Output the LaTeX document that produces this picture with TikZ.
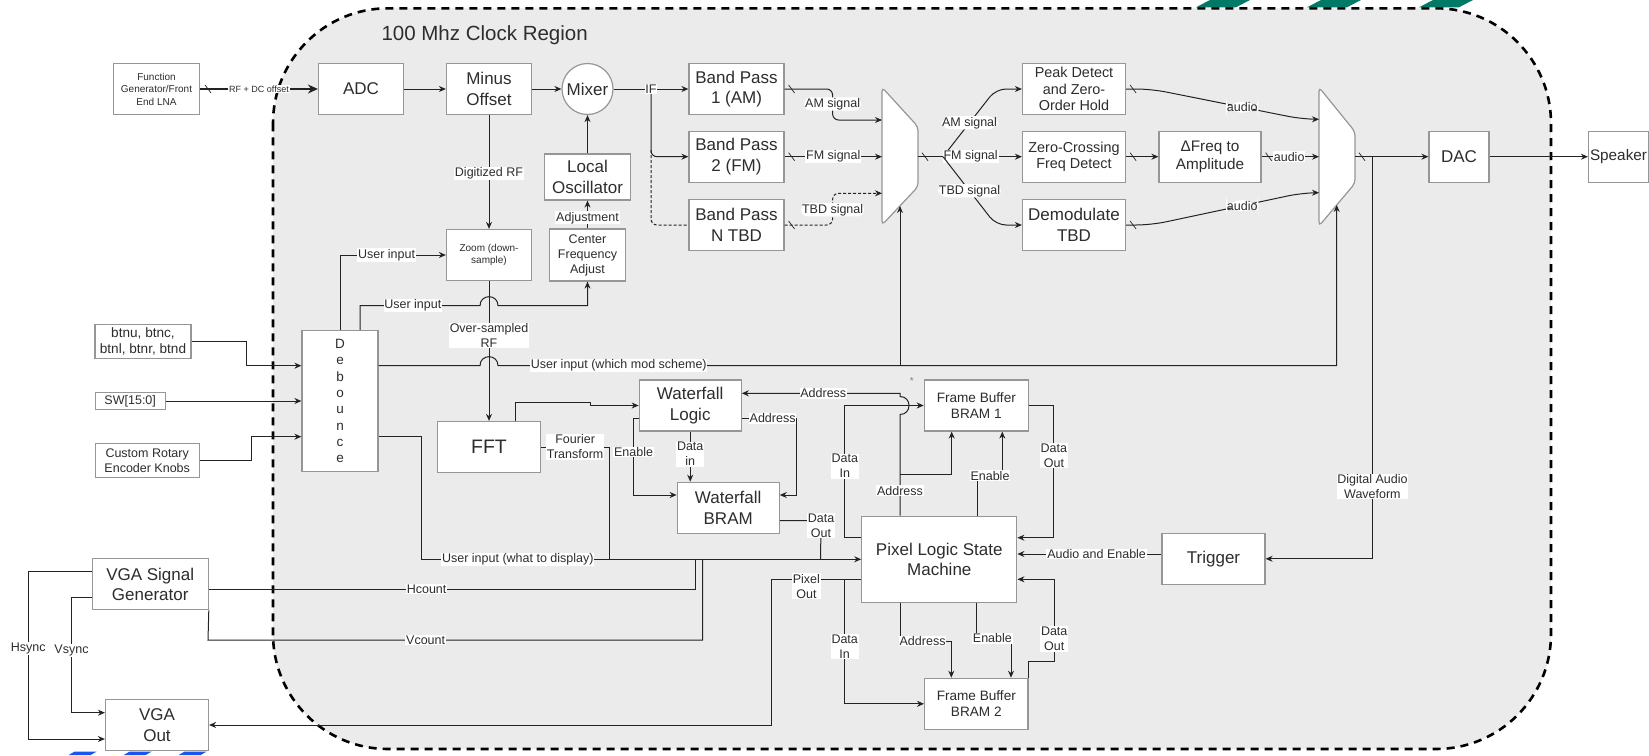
\documentclass[tikz,border=0pt]{standalone}
\usepackage{fontspec}
\setmainfont{Liberation Sans}
\usetikzlibrary{arrows.meta}

\definecolor{regionfill}{RGB}{235,235,235}
\definecolor{boxline}{RGB}{150,150,150}
\definecolor{wirecol}{RGB}{35,35,35}
\definecolor{txtcol}{RGB}{45,45,45}
\definecolor{tealmark}{RGB}{0,122,102}
\definecolor{bluemark}{RGB}{25,85,240}

\newcommand\fsbig{\fontsize{17}{20.5}\selectfont}
\newcommand\fsfft{\fontsize{19.5}{22}\selectfont}
\newcommand\fsspk{\fontsize{15.3}{17.7}\selectfont}
\newcommand\fsmid{\fontsize{14.4}{16.7}\selectfont}
\newcommand\fsfb{\fontsize{13.6}{16.5}\selectfont}
\newcommand\fsdeb{\fontsize{13.5}{16.3}\selectfont}
\newcommand\fslbl{\fontsize{12.5}{15}\selectfont}
\newcommand\fstiny{\fontsize{10}{12.5}\selectfont}
\newcommand\fsrf{\fontsize{9}{11}\selectfont}
\newcommand\fstitle{\fontsize{20.5}{24}\selectfont}

\tikzset{
  blk/.style={draw=boxline, line width=1.2pt, fill=white, text=txtcol, align=center, inner sep=0.5pt, font=\fsbig},
  lbl/.style={fill=white, text=txtcol, inner sep=0.8pt, align=center, font=\fslbl},
  conn/.style={draw=wirecol, line width=1pt},
  arr/.style={conn, -{Stealth[length=7pt,width=6pt]}},
  mux/.style={draw=boxline, line width=1.2pt, fill=white, rounded corners=4pt},
  bustick/.pic={\draw[wirecol, line width=0.7pt] (-3,-4) -- (3,4);}
}

\begin{document}
\begin{tikzpicture}[x=1pt,y=-1pt]
        \useasboundingbox (0,0) rectangle (1649,755);
        \fill[white] (0,0) rectangle (1649,755);
        \draw[line width=2.6pt, dash pattern=on 8pt off 6pt, fill=regionfill, rounded corners=115pt] (273,8.3) rectangle (1551,749);
        \foreach \mx in {1196,1307,1419}
          \fill[tealmark] (\mx,7.3) -- (\mx+40,7.3) -- (\mx+54,0) -- (\mx+14,0) -- cycle;
        \foreach \mx in {71.7,126.7,181.7}
          \fill[bluemark] (\mx-3,755) -- (\mx+19,755) -- (\mx+25,751.5) -- (\mx+3,751.5) -- cycle;
        \node[anchor=west, font=\fstitle, text=txtcol] (title) at (378,35) {100 Mhz Clock Region};

        \node[blk, minimum width=86pt, minimum height=51pt, font=\fstiny] (fgen) at (156.5,89) {Function\\Generator/Front\\End LNA};
        \node[blk, minimum width=85pt, minimum height=51pt] (adc) at (361,89) {ADC};
        \node[blk, minimum width=85pt, minimum height=51pt] (minus) at (489,89) {Minus\\Offset};
        \node[blk, circle, minimum size=51pt] (mixer) at (587.5,89) {Mixer};
        \node[blk, minimum width=86pt, minimum height=46pt] (lo) at (587.5,177) {Local\\Oscillator};
        \node[blk, minimum width=85pt, minimum height=51pt, font=\fstiny] (zoom) at (489,255) {Zoom (down-\\sample)};
        \node[blk, minimum width=76pt, minimum height=52pt, font=\fslbl] (cfa) at (587.5,255) {Center\\Frequency\\Adjust};
        \node[blk, minimum width=95pt, minimum height=51pt] (bp1) at (736.5,89) {Band Pass\\1 (AM)};
        \node[blk, minimum width=95pt, minimum height=51pt] (bp2) at (736.5,156.7) {Band Pass\\2 (FM)};
        \node[blk, minimum width=95pt, minimum height=51pt] (bpn) at (736.5,225) {Band Pass\\N TBD};
        \node[blk, minimum width=103pt, minimum height=51pt, font=\fsmid] (peak) at (1074,89) {Peak Detect\\and Zero-\\Order Hold};
        \node[blk, minimum width=103pt, minimum height=51pt, font=\fsmid] (zc) at (1074,156.7) {Zero-Crossing\\Freq Detect};
        \node[blk, minimum width=103pt, minimum height=51pt] (demod) at (1074,225) {Demodulate\\TBD};
        \node[blk, minimum width=102pt, minimum height=51pt, font=\fsspk] (dfreq) at (1210,156.7) {ΔFreq to\\Amplitude};
        \node[blk, minimum width=60pt, minimum height=51pt] (dac) at (1459,156.7) {DAC};
        \node[blk, minimum width=60pt, minimum height=51pt, font=\fsspk] (speaker) at (1618.5,156.7) {Speaker};

        \node[blk, minimum width=96pt, minimum height=34pt, font=\fsfb] (btns) at (143,341.3) {btnu, btnc,\\btnl, btnr, btnd};
        \node[blk, minimum width=70pt, minimum height=17pt, font=\fslbl] (sw) at (130.2,401) {SW[15:0]};
        \node[blk, minimum width=104pt, minimum height=34pt, font=\fslbl] (rot) at (147.2,460.8) {Custom Rotary\\Encoder Knobs};
        \node[blk, minimum width=76pt, minimum height=141pt, font=\fsdeb] (deb) at (340,401) {D\\e\\b\\o\\u\\n\\c\\e};
        \node[blk, minimum width=102.5pt, minimum height=51pt, font=\fsfft] (fft) at (489,447) {FFT};
        \node[blk, minimum width=102pt, minimum height=51pt] (wl) at (690.2,405.5) {Waterfall\\Logic};
        \node[blk, minimum width=102pt, minimum height=51pt] (wbram) at (728.2,507.8) {Waterfall\\BRAM};
        \node[blk, minimum width=104pt, minimum height=51pt, font=\fsfb] (fb1) at (976.3,405.5) {Frame Buffer\\BRAM 1};
        \node[blk, minimum width=155pt, minimum height=86pt] (plsm) at (939.3,559.3) {Pixel Logic State\\Machine};
        \node[blk, minimum width=103.4pt, minimum height=51pt, font=\fsfb] (fb2) at (976.3,703.8) {Frame Buffer\\BRAM 2};
        \node[blk, minimum width=103pt, minimum height=51pt] (trig) at (1213.5,558.8) {Trigger};
        \node[blk, minimum width=116pt, minimum height=51pt] (vgasg) at (150.2,584.3) {VGA Signal\\Generator};
        \node[blk, minimum width=103pt, minimum height=51pt] (vgaout) at (157,725) {VGA\\Out};
        \node[font=\fstiny, text=gray] (star) at (911.7,381) {*};

        \draw[mux] (882,87.3) -- (918,126.7) -- (918,186.7) -- (882,225) -- cycle;
        \coordinate (m1a) at (882,120);
        \coordinate (m1b) at (882,156.7);
        \coordinate (m1c) at (882,193.3);
        \coordinate (m1out) at (918,156.7);
        \coordinate (m1sel) at (900,206);
        \draw[mux] (1319,87.3) -- (1355,131.7) -- (1355,183.3) -- (1319,226) -- cycle;
        \coordinate (m2a) at (1319,119.3);
        \coordinate (m2b) at (1319,156.7);
        \coordinate (m2c) at (1319,192.7);
        \coordinate (m2out) at (1355,156.7);
        \coordinate (m2sel) at (1336.7,205);

        \draw[arr, line width=2.2pt, -{Stealth[length=10pt,width=9pt]}] (fgen.east) -- node[lbl, font=\fsrf] {RF + DC offset} (adc.west);
        \pic at (208,89) {bustick};
        \draw[arr] (adc) -- (minus);
        \draw[arr] (minus) -- (mixer);
        \coordinate (ifsplit) at (651,89);
        \draw[arr, rounded corners=6pt] (ifsplit) |- (bp2.west);
        \draw[conn, dash pattern=on 3pt off 2pt, rounded corners=6pt] (651,150) |- (bpn.west);
        \draw[arr] (mixer) -- node[lbl] {IF} (bp1);
        \draw[arr] (minus) -- node[lbl, pos=0.51] {Digitized RF} (zoom);
        \draw[arr] (lo) -- (mixer);
        \draw[arr] (cfa) -- node[lbl, pos=0.38] {Adjustment} (lo);

        \draw[arr] (deb.north) |- node[lbl, pos=0.72] {User input} (zoom.west);
        \draw[arr] ([xshift=20pt]deb.north) |- node[lbl, pos=0.72] {User input} (480,305.7) .. controls (480,293.7) and (498,293.7) .. (498,305.7) -| (cfa.south);
        \draw[arr] (zoom) -- node[lbl, pos=0.39] {Over-sampled\\RF} (fft);

        \draw[arr] (btns.east) -- ++(54.7,0) |- ([yshift=35.3pt]deb.west);
        \draw[arr] (sw) -- (deb);
        \draw[arr] (rot.east) -- ++(51.7,0) |- ([yshift=-35.7pt]deb.west);

        \draw[arr] ([yshift=35.3pt]deb.east) -- (480,365.7) .. controls (480,353.7) and (498,353.7) .. (498,365.7) -- node[lbl, pos=0.144] {User input (which mod scheme)} (1336.7,365.7) -- (m2sel);
        \coordinate (selsplit) at (900,365.7);
        \draw[arr] (selsplit) -- (m1sel);
        \draw[arr] ([yshift=-35.7pt]deb.east) -- (421,436.7) |- node[lbl, pos=0.61] {User input (what to display)} (plsm.west);

        \draw[conn] (fft.east) -- node[lbl] {Fourier\\Transform} (609.4,447) -- (609.4,559.3);
        \draw[arr] ([xshift=26pt]fft.north) |- (590,402.3) -- (590,405.5) -- (wl.west);
        \draw[arr] ([yshift=-12.8pt]wl.west) -- ++(-5,0) |- node[lbl, pos=0.22] {Enable} ([yshift=12.8pt]wbram.west);
        \draw[arr] (wl.south) -- node[lbl, pos=0.45] {Data\\in} (wl.south |- wbram.north);
        \draw[arr] ([yshift=-12.8pt]wl.east) -- node[lbl, pos=0.56] {Address} ++(55,0) |- ([yshift=12.8pt]wbram.east);

        \coordinate (adsplit) at (900,474.3);
        \draw[arr] ([xshift=-39.3pt]plsm.north) -- node[lbl, pos=0.6] {Address} (adsplit) -- (900,414.5) .. controls (912,414.5) and (912,396.5) .. (900,396.5) -- (900,393.3) -- node[lbl, pos=0.485] {Address} ([yshift=12.2pt]wl.east);
        \draw[arr] (adsplit) -| ([xshift=-24.6pt]fb1.south);
        \draw[arr] ([yshift=22pt]plsm.west) -- ++(-16.3,0) |- node[lbl, pos=0.27] {Data\\In} (fb1.west);
        \draw[arr] ([xshift=38pt]plsm.north) |- node[lbl, pos=1] {Enable} (990,475.7) -| ([xshift=26pt]fb1.south);
        \draw[arr] (fb1.east) -- ++(25,0) |- node[lbl, pos=0.19] {Data\\Out} ([yshift=21.6pt]plsm.east);
        \draw[conn] ([yshift=-12.9pt]wbram.east) -- ++(41.3,0) -- node[lbl, pos=0.12] {Data\\Out} (820.5,559.3);

        \draw[arr] ([yshift=-20pt]plsm.west) -- node[lbl, pos=0.61, yshift=-7pt] {Pixel\\Out} (771.4,579.3) |- (vgaout.east);
        \draw[arr] ([yshift=-20pt]plsm.west) -- ++(-16.5,0) |- node[lbl, pos=0.27] {Data\\In} (fb2.west);
        \draw[arr] ([xshift=-39.3pt]plsm.south) |- node[lbl, pos=0.72] {Address} (951.3,641) -- ([xshift=-25pt]fb2.north);
        \draw[arr] ([xshift=37.5pt]plsm.south) |- node[lbl, pos=1] {Enable} (992.4,638.3) -| ([xshift=34.7pt]fb2.north);
        \draw[arr] (fb2.north east) -- ++(0,-16.6) -- ++(25.6,0) |- node[lbl, pos=0.136] {Data\\Out} ([yshift=-20pt]plsm.east);
        \draw[arr] ([yshift=4.8pt]trig.west) -- node[lbl, pos=0.45] {Audio and Enable} ([yshift=5.3pt]plsm.east);

        \draw[arr] (m2out) -- (dac);
        \pic at (1362,156.7) {bustick};
        \coordinate (dasplit) at (1372.4,156.7);
        \draw[arr] (dasplit) |- node[lbl, pos=0.41] {Digital Audio\\Waveform} (trig.east);
        \draw[arr] (dac) -- (speaker);

        \draw[arr, rounded corners=6pt] (bp1.east) -- ++(48,0) |- node[lbl, pos=0.24] {AM signal} (m1a);
        \draw[arr] (bp2.east) -- node[lbl] {FM signal} (m1b);
        \draw[arr, dash pattern=on 3pt off 2pt, rounded corners=6pt] (bpn.east) -- ++(48,0) |- node[lbl, pos=0.24] {TBD signal} (m1c);
        \draw[conn] (m1out) -- (943,156.7) coordinate (m1split);
        \pic at (925,156.7) {bustick};
        \draw[arr, rounded corners=10pt] (m1split) -- node[lbl, pos=0.5] {AM signal} (996,89) -- (peak.west);
        \draw[arr] (m1split) -- node[lbl, pos=0.35] {FM signal} (zc.west);
        \draw[arr, rounded corners=10pt] (m1split) -- node[lbl, pos=0.5] {TBD signal} (996,225) -- (demod.west);

        \draw[arr, rounded corners=15pt] (peak.east) -- ++(25,0) -- node[lbl, pos=0.6] {audio} (1303,119.3) -- (m2a);
        \draw[arr] (zc) -- (dfreq);
        \draw[arr] (dfreq) -- node[lbl, pos=0.48] {audio} (m2b);
        \draw[arr, rounded corners=15pt] (demod.east) -- ++(25,0) -- node[lbl, pos=0.6] {audio} (1303,192.7) -- (m2c);
        \foreach \tk in {bp1,bp2,bpn,peak,zc,demod,dfreq}
          \pic at ([xshift=7pt]\tk.east) {bustick};

        \draw[arr] ([yshift=12.6pt]vgasg.west) -- ++(-63.4,0) |- node[lbl, pos=0.23] {Hsync} ([yshift=-14pt]vgaout.west);
        \draw[arr] ([yshift=-13.4pt]vgasg.west) -- ++(-20.1,0) |- node[lbl, pos=0.23] {Vsync} ([yshift=12.3pt]vgaout.west);
        \draw[conn] ([yshift=-4.7pt]vgasg.east) -- node[lbl, pos=0.448] {Hcount} (695,589) -- (695,559.3);
        \draw[conn] (vgasg.south east) -- (208,640) -- node[lbl, pos=0.44] {Vcount} (702.6,640) -- (702.6,559.3);
\end{tikzpicture}
\end{document}
